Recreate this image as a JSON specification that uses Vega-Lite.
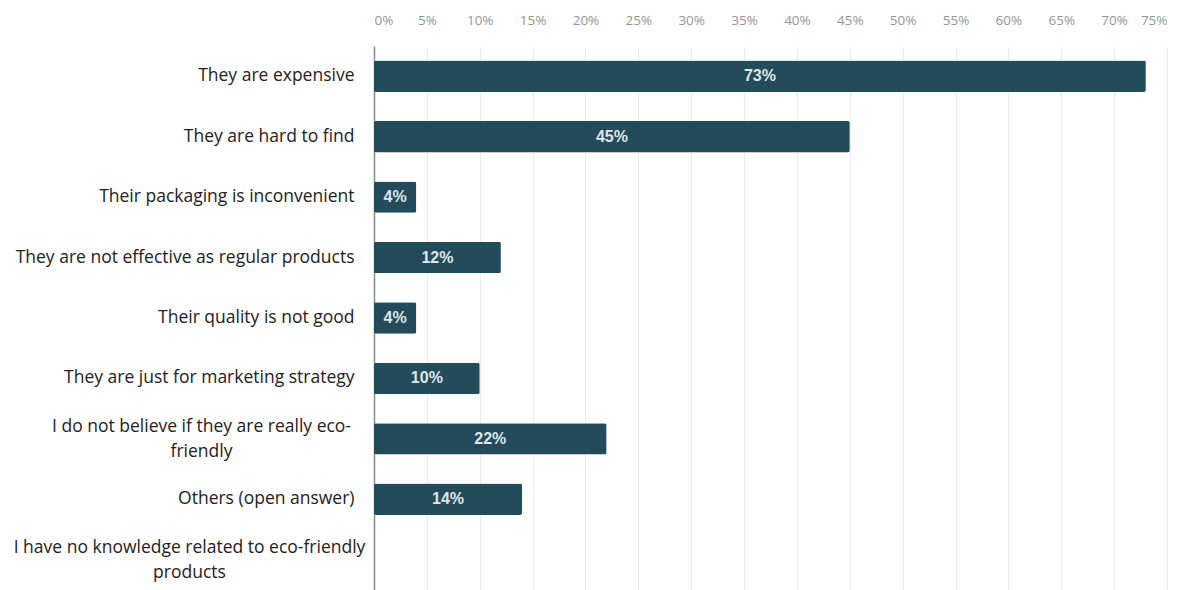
{
  "$schema": "https://vega.github.io/schema/vega-lite/v6.json",
  "width": 793,
  "height": 544,
  "autosize": "none",
  "padding": {"left": 374, "top": 46, "right": 17, "bottom": 0},
  "background": "white",
  "config": {"view": {"stroke": null}, "font": "Open Sans"},
  "data": {"values": [
    {"reason": "They are expensive", "value": 73},
    {"reason": "They are hard to find", "value": 45},
    {"reason": "Their packaging is inconvenient", "value": 4},
    {"reason": "They are not effective as regular products", "value": 12},
    {"reason": "Their quality is not good", "value": 4},
    {"reason": "They are just for marketing strategy", "value": 10},
    {"reason": "I do not believe if they are really eco-friendly", "value": 22},
    {"reason": "Others (open answer)", "value": 14},
    {"reason": "I have no knowledge related to eco-friendly products", "value": 0}
  ]},
  "encoding": {
    "y": {
      "field": "reason", "type": "nominal", "sort": null, "title": null,
      "scale": {"paddingInner": 0.48, "paddingOuter": 0.24},
      "axis": {
        "ticks": false,
        "domainColor": "#8a8a8a",
        "domainWidth": 1.5,
        "labelFont": "Open Sans",
        "labelFontSize": 17.5,
        "labelColor": "#222222",
        "labelLimit": 500,
        "labelLineHeight": 25,
        "labelAlign": {"condition": {"test": "indexof(datum.value, 'eco-friendly') >= 0", "value": "center"}, "value": "right"},
        "labelOffset": {"condition": {"test": "indexof(datum.value, 'eco-friendly') >= 0", "value": -12}, "value": 0},
        "labelPadding": {"condition": [
          {"test": "datum.value == 'I do not believe if they are really eco-friendly'", "value": 173},
          {"test": "datum.value == 'I have no knowledge related to eco-friendly products'", "value": 185}
        ], "value": 20},
        "labelExpr": "datum.value == 'I do not believe if they are really eco-friendly' ? ['I do not believe if they are really eco-', 'friendly'] : datum.value == 'I have no knowledge related to eco-friendly products' ? ['I have no knowledge related to eco-friendly', 'products'] : datum.label"
      }
    }
  },
  "layer": [
    {
      "mark": {"type": "bar", "color": "#244b59", "cornerRadius": 2},
      "encoding": {
        "x": {
          "field": "value", "type": "quantitative", "title": null,
          "scale": {"domain": [0, 75], "nice": false},
          "axis": {
            "orient": "top",
            "values": [0,5,10,15,20,25,30,35,40,45,50,55,60,65,70,75],
            "labelExpr": "datum.value + '%'",
            "domain": false,
            "ticks": false,
            "tickSize": 0,
            "labelPadding": 19,
            "labelFont": "Open Sans",
            "labelFontSize": 13.5,
            "labelColor": "#959595",
            "gridColor": "#ececec",
            "gridWidth": 1
          }
        }
      }
    },
    {
      "transform": [
        {"filter": "datum.value > 0"},
        {"calculate": "datum.value / 2", "as": "mid"},
        {"calculate": "datum.value + '%'", "as": "lab"}
      ],
      "mark": {"type": "text", "color": "#dfe6ea", "font": "Liberation Sans", "fontWeight": "bold", "fontSize": 16, "align": "center", "baseline": "middle"},
      "encoding": {
        "x": {"field": "mid", "type": "quantitative"},
        "text": {"field": "lab", "type": "nominal"}
      }
    }
  ]
}
